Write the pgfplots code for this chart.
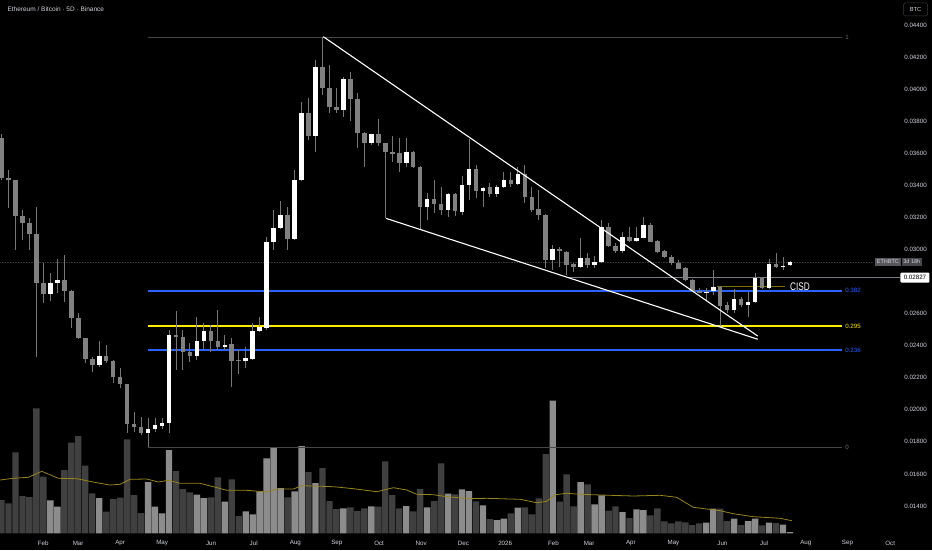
\documentclass[border=0pt]{standalone}
\usepackage{pgfplots}
\usepackage{pgfplotstable}
\pgfplotsset{compat=1.18}
\usepackage{fontspec}
\setmainfont{Liberation Sans}
\newcommand\fs[1]{\fontsize{#1}{#1}\selectfont}
\definecolor{dncol}{RGB}{128,128,128}
\definecolor{wickcol}{RGB}{118,118,118}
\definecolor{vdn}{RGB}{64,64,64}
\definecolor{vup}{RGB}{140,140,140}
\definecolor{macol}{RGB}{150,132,30}
\definecolor{fibblue}{RGB}{41,98,255}
\definecolor{fibyel}{RGB}{255,235,0}
\definecolor{fibgray}{RGB}{70,70,70}
\definecolor{txt}{RGB}{209,212,220}
\definecolor{raycol}{RGB}{120,123,134}
\definecolor{cisdcol}{RGB}{128,112,0}

\pgfplotstableread{
x o h l c v
1 0.03693 0.03720 0.03433 0.03448 333
6 0.03448 0.03496 0.03257 0.03431 300
11 0.03431 0.03433 0.02997 0.03209 810
16 0.03209 0.03246 0.03059 0.03167 373
21 0.03167 0.03196 0.02997 0.03098 363
26 0.03098 0.03267 0.02331 0.02793 1250
31 0.02793 0.02916 0.02666 0.02720 566
46 0.02810 0.02966 0.02674 0.02743 633
51 0.02743 0.02745 0.02510 0.02575 906
56 0.02575 0.02604 0.02440 0.02446 973
61 0.02446 0.02448 0.02292 0.02315 676
66 0.02315 0.02331 0.02238 0.02281 400
76 0.02336 0.02404 0.02292 0.02306 216
81 0.02306 0.02312 0.02167 0.02205 343
86 0.02205 0.02261 0.02136 0.02159 356
91 0.02159 0.02161 0.01855 0.01910 940
96 0.01910 0.01988 0.01864 0.01895 383
101 0.01895 0.01955 0.01843 0.01857 203
126 0.02465 0.02616 0.02248 0.02454 623
131 0.02454 0.02498 0.02248 0.02362 443
136 0.02359 0.02417 0.02300 0.02336 410
151 0.02490 0.02529 0.02362 0.02429 360
156 0.02429 0.02623 0.02373 0.02394 560
166 0.02409 0.02448 0.02140 0.02306 540
171 0.02310 0.02373 0.02223 0.02306 173
206 0.03215 0.03267 0.02997 0.03064 360
221 0.03849 0.03943 0.03683 0.03708 613
231 0.04140 0.04327 0.03964 0.04005 653
236 0.04005 0.04151 0.03849 0.03891 323
241 0.03887 0.04005 0.03853 0.03870 243
251 0.04061 0.04109 0.03803 0.03940 260
256 0.03940 0.03974 0.03631 0.03725 223
261 0.03728 0.03734 0.03516 0.03662 250
271 0.03718 0.03812 0.03645 0.03662 266
276 0.03662 0.03665 0.03194 0.03610 720
281 0.03610 0.03708 0.03547 0.03596 383
286 0.03600 0.03693 0.03485 0.03537 250
296 0.03610 0.03612 0.03506 0.03516 220
301 0.03516 0.03520 0.03121 0.03267 443
311 0.03313 0.03433 0.03226 0.03284 323
316 0.03284 0.03392 0.03215 0.03246 700
326 0.03344 0.03352 0.03209 0.03242 390
341 0.03500 0.03527 0.03319 0.03367 320
351 0.03387 0.03413 0.03329 0.03346 143
366 0.03433 0.03485 0.03392 0.03408 200
376 0.03471 0.03527 0.03288 0.03325 260
381 0.03325 0.03392 0.03236 0.03246 190
386 0.03251 0.03371 0.03184 0.03215 350
391 0.03215 0.03220 0.02883 0.02934 793
401 0.03001 0.03017 0.02893 0.02989 316
406 0.02986 0.02990 0.02841 0.02903 590
411 0.02908 0.02918 0.02861 0.02889 270
421 0.02949 0.02976 0.02883 0.02903 490
436 0.03138 0.03163 0.03017 0.03024 226
441 0.03024 0.03039 0.02976 0.02992 270
451 0.03080 0.03142 0.03049 0.03053 153
466 0.03153 0.03163 0.03045 0.03049 180
471 0.03053 0.03059 0.02980 0.02986 250
476 0.02991 0.02997 0.02945 0.02951 120
481 0.02955 0.02966 0.02903 0.02914 100
486 0.02918 0.02934 0.02876 0.02880 120
491 0.02883 0.02889 0.02805 0.02810 110
496 0.02810 0.02814 0.02735 0.02741 83
501 0.02741 0.02758 0.02727 0.02730 100
516 0.02768 0.02772 0.02523 0.02648 246
521 0.02654 0.02674 0.02602 0.02623 123
531 0.02689 0.02706 0.02643 0.02654 83
546 0.02820 0.02830 0.02753 0.02760 80
556 0.02908 0.02980 0.02883 0.02891 103
}\dntab

\pgfplotstableread{
x o h l c v
36 0.02720 0.02853 0.02680 0.02793 330
41 0.02793 0.02941 0.02729 0.02808 266
71 0.02281 0.02429 0.02267 0.02336 353
106 0.01857 0.01949 0.01770 0.01878 513
111 0.01878 0.01949 0.01864 0.01905 266
116 0.01900 0.01949 0.01878 0.01920 200
121 0.01916 0.02498 0.01853 0.02467 833
141 0.02336 0.02579 0.02311 0.02431 386
146 0.02429 0.02541 0.02373 0.02490 353
161 0.02394 0.02467 0.02373 0.02406 316
176 0.02306 0.02394 0.02259 0.02321 220
181 0.02319 0.02541 0.02311 0.02490 190
186 0.02490 0.02581 0.02488 0.02518 416
191 0.02512 0.03080 0.02498 0.03049 750
196 0.03045 0.03246 0.02997 0.03132 860
201 0.03132 0.03304 0.03126 0.03215 453
211 0.03064 0.03496 0.03059 0.03433 420
216 0.03433 0.03922 0.03425 0.03849 873
226 0.03708 0.04182 0.03610 0.04140 503
246 0.03870 0.04078 0.03828 0.04061 250
266 0.03662 0.03720 0.03652 0.03718 270
291 0.03537 0.03693 0.03516 0.03610 273
306 0.03267 0.03352 0.03184 0.03313 260
321 0.03246 0.03350 0.03204 0.03344 396
331 0.03236 0.03460 0.03215 0.03402 440
336 0.03402 0.03687 0.03309 0.03500 423
346 0.03367 0.03392 0.03267 0.03385 280
356 0.03346 0.03402 0.03329 0.03392 133
361 0.03387 0.03485 0.03382 0.03433 146
371 0.03408 0.03516 0.03402 0.03471 256
396 0.02934 0.03028 0.02872 0.03001 1326
416 0.02889 0.03070 0.02883 0.02949 513
426 0.02903 0.02959 0.02883 0.02920 290
431 0.02920 0.03184 0.02914 0.03138 380
446 0.02992 0.03111 0.02976 0.03080 213
456 0.03053 0.03142 0.03049 0.03074 240
461 0.03074 0.03204 0.03070 0.03153 233
506 0.02730 0.02758 0.02685 0.02737 106
511 0.02741 0.02872 0.02716 0.02768 246
526 0.02623 0.02752 0.02602 0.02689 146
536 0.02654 0.02737 0.02581 0.02671 123
541 0.02671 0.02851 0.02664 0.02820 146
551 0.02758 0.02939 0.02752 0.02908 106
561 0.02889 0.02955 0.02872 0.02899 86
566 0.02901 0.02928 0.02895 0.02920 13
}\uptab

\pgfplotstableread{
x v
0 533
9.4 550
20.2 560
29.8 620
41.7 550
54.9 546
69.2 506
78.7 483
85.9 490
93.1 540
105 543
113.3 513
120.5 530
128.9 500
143.2 500
152.8 466
162.4 430
176.7 430
191 413
198.2 443
210.1 443
216.1 476
238.8 466
253.1 446
269.9 416
281.8 456
291.4 433
298.5 390
310.4 386
320 366
336.7 346
348.7 350
372.6 340
384.5 306
391.7 320
397.6 386
406 400
415.6 390
437.1 380
453.7 373
472.9 380
484.8 360
496.8 260
515.9 226
525.4 196
539.8 166
558.9 150
567.3 126
}\matab

\begin{document}
\begin{tikzpicture}
\useasboundingbox (0,0) rectangle (932pt,550pt);
\fill[black] (0,0) rectangle (932pt,550pt);

% volume
\begin{axis}[at={(0pt,0pt)}, anchor=south west, scale only axis,
  width=932pt, height=550pt, xmin=-0.1, xmax=667.8, ymin=-167, ymax=5333,
  hide axis, clip=false]
\addplot[ybar, bar width=4.6, bar shift=0pt, fill=vdn, draw=none] table[x=x,y=v]{\dntab};
\addplot[ybar, bar width=4.6, bar shift=0pt, fill=vup, draw=none] table[x=x,y=v]{\uptab};
\addplot[macol, line width=0.8pt] table[x=x,y=v]{\matab};
\end{axis}

% price
\begin{axis}[at={(0pt,0pt)}, anchor=south west, scale only axis,
  width=932pt, height=550pt, xmin=-0.1, xmax=667.8, ymin=0.011255, ymax=0.045559,
  hide axis, clip=false]
% faint current price line
\addplot[densely dotted, color={rgb,255:red,55;green,55;blue,55}, line width=0.6pt] coordinates {(0,0.02922) (626,0.02922)};
% fib levels
\addplot[fibgray, line width=0.8pt] coordinates {(106,0.04325) (603,0.04325)};
\addplot[fibgray, line width=0.8pt] coordinates {(106,0.01768) (603,0.01768)};
\addplot[fibblue, line width=1.8pt] coordinates {(106,0.02743) (603,0.02743)};
\addplot[fibyel, line width=1.5pt] coordinates {(106,0.02523) (603,0.02523)};
\addplot[fibblue, line width=1.8pt] coordinates {(106,0.02371) (603,0.02371)};
% horizontal ray
\addplot[raycol, line width=1.3pt] coordinates {(406.9,0.02827) (645,0.02827)};
% CISD line
\addplot[cisdcol, line width=0.8pt] coordinates {(513.7,0.02768) (562.5,0.02768)};
% wicks
\addplot[draw=none, mark=none, error bars/.cd, y dir=both, y explicit, error mark=none,
  error bar style={draw=wickcol, line width=0.9pt}]
  table[x=x, y expr=(\thisrow{h}+\thisrow{l})/2, y error expr=(\thisrow{h}-\thisrow{l})/2]{\dntab};
\addplot[draw=none, mark=none, error bars/.cd, y dir=both, y explicit, error mark=none,
  error bar style={draw=wickcol, line width=0.9pt}]
  table[x=x, y expr=(\thisrow{h}+\thisrow{l})/2, y error expr=(\thisrow{h}-\thisrow{l})/2]{\uptab};
% bodies
\addplot[draw=none, mark=none, error bars/.cd, y dir=both, y explicit, error mark=none,
  error bar style={draw=dncol, line width=4.6pt}]
  table[x=x, y expr=(\thisrow{o}+\thisrow{c})/2, y error expr=(\thisrow{o}-\thisrow{c})/2]{\dntab};
\addplot[draw=none, mark=none, error bars/.cd, y dir=both, y explicit, error mark=none,
  error bar style={draw=white, line width=4.6pt}]
  table[x=x, y expr=(\thisrow{o}+\thisrow{c})/2, y error expr=(\thisrow{c}-\thisrow{o})/2]{\uptab};
% wedge
\addplot[white, line width=1.1pt] coordinates {(231.6,0.04327) (542.9,0.02460)};
\addplot[white, line width=1.1pt] coordinates {(276.5,0.03194) (542.9,0.02440)};

% texts
\node[anchor=west, text=txt, font=\fs{6.5}] at (axis cs:2.8,0.04500) {Ethereum / Bitcoin · 5D · Binance};
\node[draw={rgb,255:red,60;green,60;blue,60}, rounded corners=1.5pt, text=txt, font=\fs{5.8},
  minimum width=24pt, minimum height=13pt, inner sep=0.5pt] at (axis cs:656,0.04497) {BTC};
\pgfplotsinvokeforeach{0.04400,0.04200,0.04000,0.03800,0.03600,0.03400,0.03200,0.03000,0.02600,0.02400,0.02200,0.02000,0.01800,0.01600,0.01400}{
  \node[text=txt, font=\fs{6.2}] at (axis cs:656,#1) {#1};
}
\node[fill={rgb,255:red,88;green,88;blue,92}, text=txt, font=\fs{5.5}, minimum width=26.5pt,
  minimum height=8.8pt, inner sep=0.3pt] at (axis cs:636.2,0.02922) {ETHBTC};
\node[fill={rgb,255:red,72;green,72;blue,76}, text=txt, font=\fs{5.5}, minimum width=20pt,
  minimum height=8.8pt, inner sep=0.3pt] at (axis cs:653.3,0.02922) {3d 18h};
\node[fill=white, text=black, font=\fs{6.2}, minimum width=29pt, minimum height=10pt,
  inner sep=0.3pt, rounded corners=1pt] at (axis cs:655.6,0.02824) {0.02827};
\node[anchor=west, text=white, font=\fs{11}, xscale=0.75, inner sep=0pt] at (axis cs:566,0.02766) {CISD};
\node[anchor=west, text={rgb,255:red,110;green,110;blue,110}, font=\fs{6.2}, inner sep=0pt] at (axis cs:605.5,0.04325) {1};
\node[anchor=west, text=fibblue, font=\fs{6.2}, inner sep=0pt] at (axis cs:605.5,0.02743) {0.382};
\node[anchor=west, text=fibyel, font=\fs{6.2}, inner sep=0pt] at (axis cs:605.5,0.02523) {0.295};
\node[anchor=west, text=fibblue, font=\fs{6.2}, inner sep=0pt] at (axis cs:605.5,0.02371) {0.236};
\node[anchor=west, text={rgb,255:red,110;green,110;blue,110}, font=\fs{6.2}, inner sep=0pt] at (axis cs:605.5,0.01768) {0};
% months
\node[text=txt, font=\fs{6.2}] at (axis cs:30.8,0.01169) {Feb};
\node[text=txt, font=\fs{6.2}] at (axis cs:55.9,0.01169) {Mar};
\node[text=txt, font=\fs{6.2}] at (axis cs:86,0.01169) {Apr};
\node[text=txt, font=\fs{6.2}] at (axis cs:116.1,0.01169) {May};
\node[text=txt, font=\fs{6.2}] at (axis cs:151.2,0.01169) {Jun};
\node[text=txt, font=\fs{6.2}] at (axis cs:181.7,0.01169) {Jul};
\node[text=txt, font=\fs{6.2}] at (axis cs:211.6,0.01169) {Aug};
\node[text=txt, font=\fs{6.2}] at (axis cs:241.3,0.01169) {Sep};
\node[text=txt, font=\fs{6.2}] at (axis cs:271.6,0.01169) {Oct};
\node[text=txt, font=\fs{6.2}] at (axis cs:301.7,0.01169) {Nov};
\node[text=txt, font=\fs{6.2}] at (axis cs:332,0.01169) {Dec};
\node[text=txt, font=\fs{6.2}] at (axis cs:361.9,0.01169) {2026};
\node[text=txt, font=\fs{6.2}] at (axis cs:396.5,0.01169) {Feb};
\node[text=txt, font=\fs{6.2}] at (axis cs:422.1,0.01169) {Mar};
\node[text=txt, font=\fs{6.2}] at (axis cs:452,0.01169) {Apr};
\node[text=txt, font=\fs{6.2}] at (axis cs:482.5,0.01169) {May};
\node[text=txt, font=\fs{6.2}] at (axis cs:517.6,0.01169) {Jun};
\node[text=txt, font=\fs{6.2}] at (axis cs:547.5,0.01169) {Jul};
\node[text=txt, font=\fs{6.2}] at (axis cs:577.4,0.01169) {Aug};
\node[text=txt, font=\fs{6.2}] at (axis cs:607.2,0.01169) {Sep};
\node[text=txt, font=\fs{6.2}] at (axis cs:637.8,0.01169) {Oct};
\end{axis}
\end{tikzpicture}
\end{document}
